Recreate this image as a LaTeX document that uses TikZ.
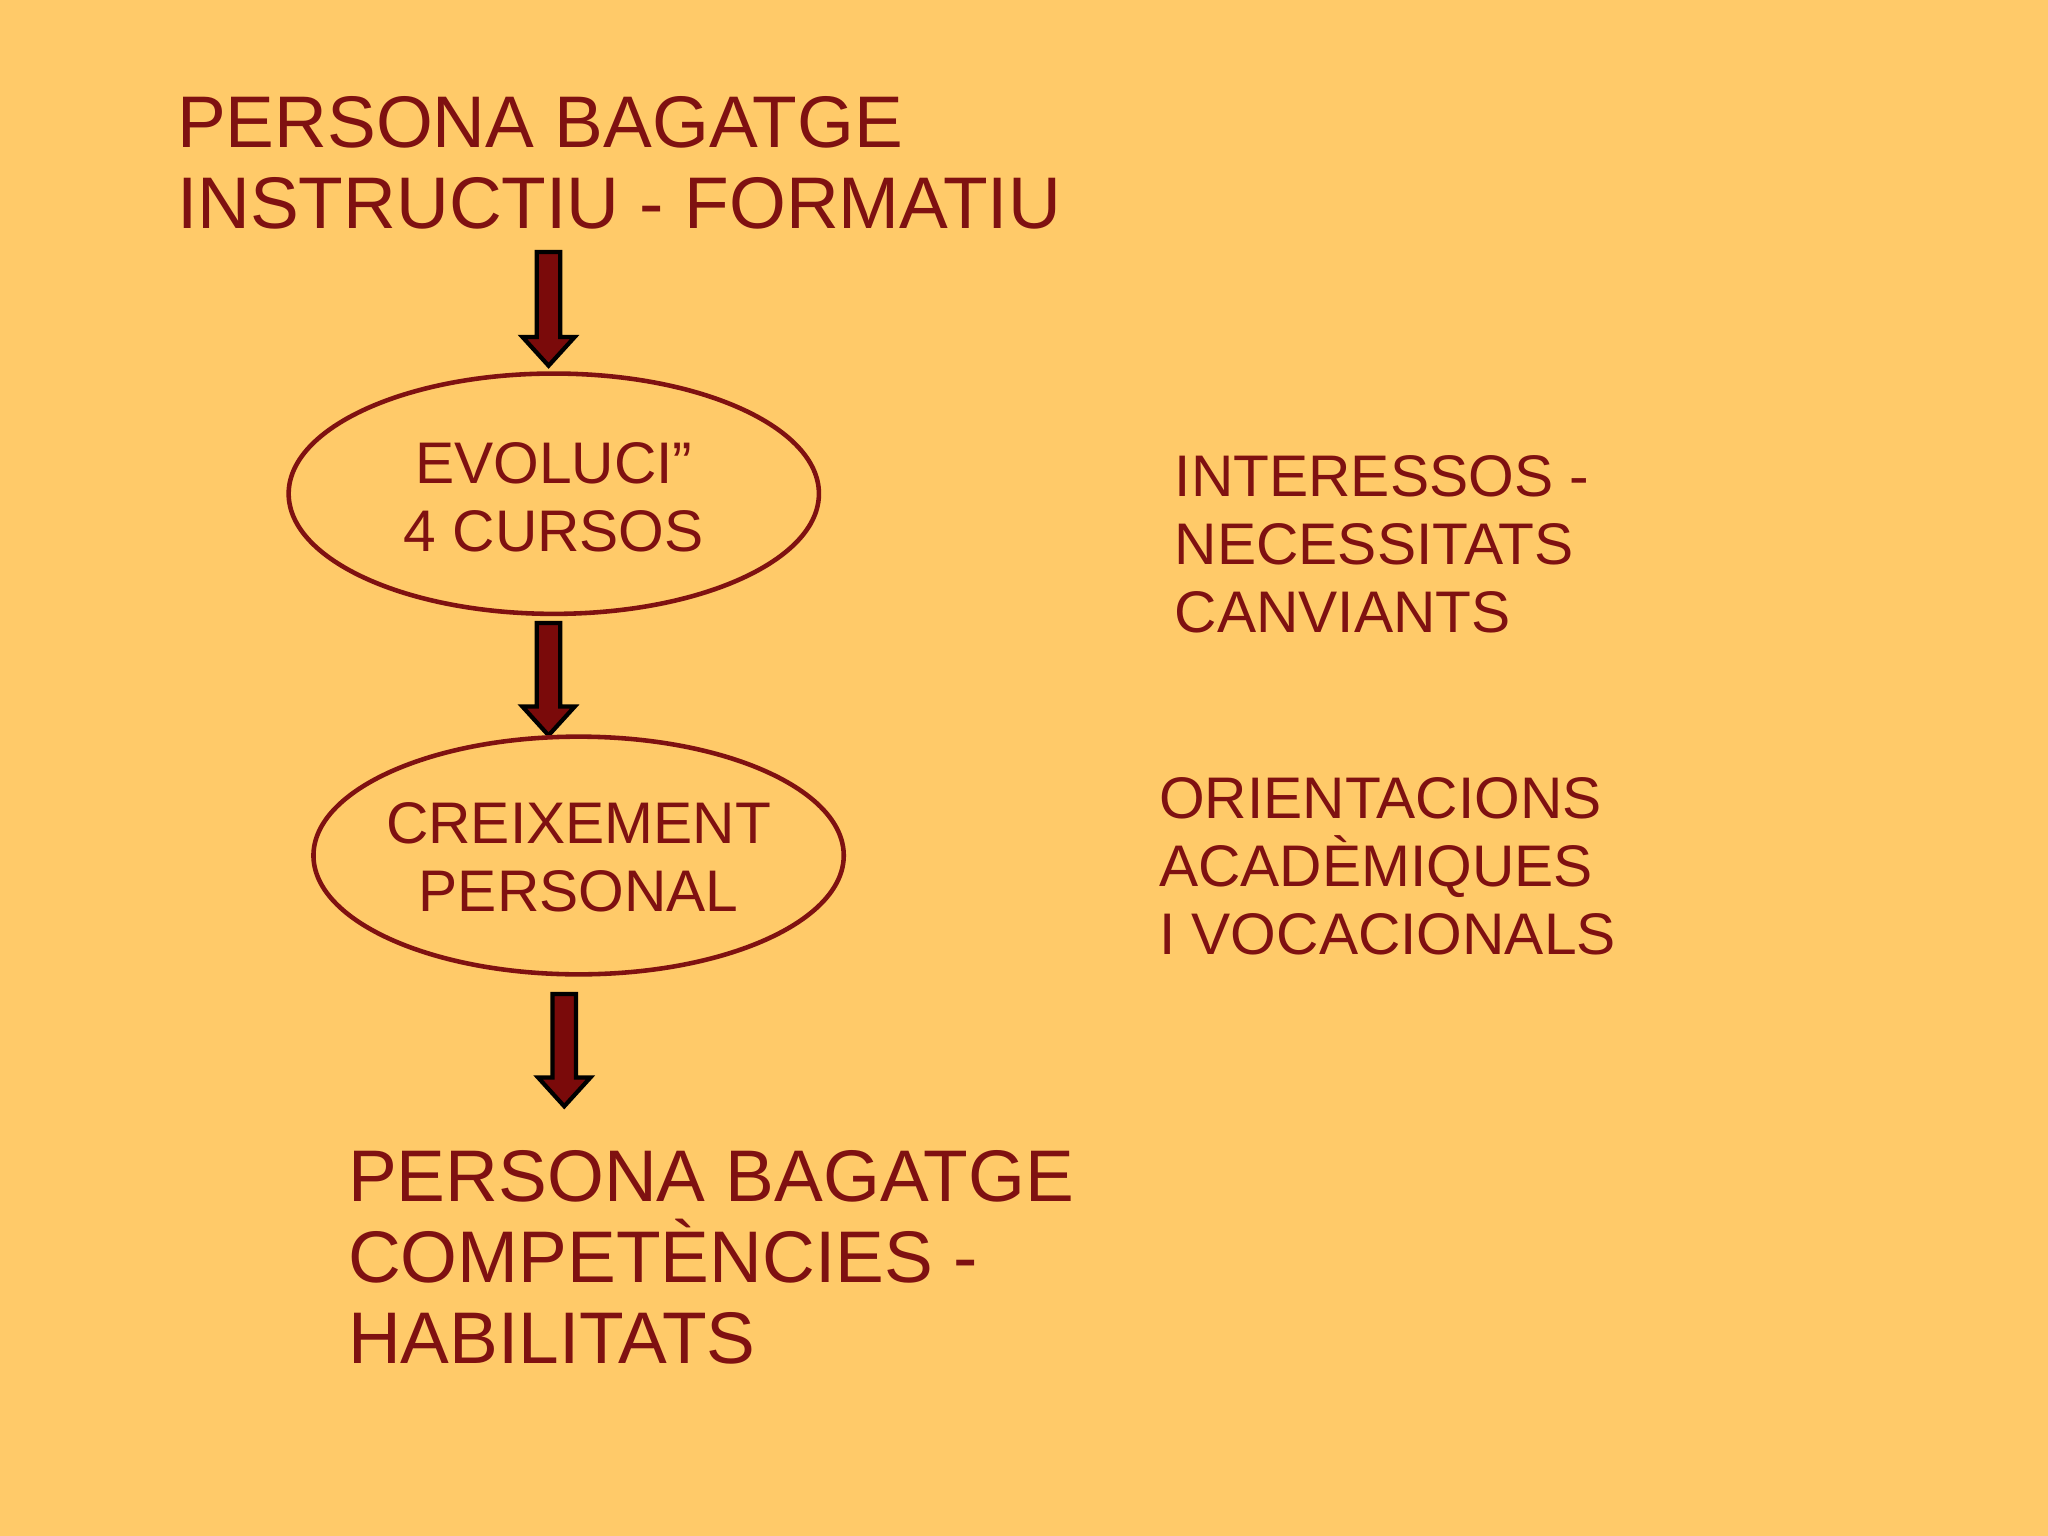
\documentclass[tikz,border=0pt]{standalone}
\usepackage{fontspec}
\setmainfont{Liberation Sans}
\definecolor{bg}{HTML}{FFCA69}
\definecolor{dred}{HTML}{7F1111}
\definecolor{afill}{HTML}{7A0A0A}
\newcommand{\blkarrow}[4]{% cx, ytop, yhead, ytip
  \fill[afill,draw=black,line width=1.2pt]
   (#1-9,#2) -- (#1+9,#2) -- (#1+9,#3) -- (#1+20,#3) -- (#1,#4) -- (#1-20,#3) -- (#1-9,#3) -- cycle;}
\begin{document}
\begin{tikzpicture}[x=0.01306cm,y=-0.01306cm,
  big/.style={font=\fontsize{20.8pt}{23pt}\selectfont,text=dred,anchor=base west,inner sep=0},
  mid/.style={font=\fontsize{16.7pt}{19.3pt}\selectfont,text=dred,anchor=base west,inner sep=0},
  midc/.style={font=\fontsize{16.7pt}{19.3pt}\selectfont,text=dred,anchor=base,inner sep=0},
  ell/.style={draw=dred,line width=1.3pt}]
\fill[bg] (0,0) rectangle (1568,1176);
\useasboundingbox (0,0) rectangle (1568,1176);
\node[big] (t1) at (135,113) {PERSONA BAGATGE};
\node[big] (t2) at (135,175) {INSTRUCTIU - FORMATIU};
\blkarrow{420}{193}{258}{280}
\draw[ell] (424,378) ellipse [x radius=203, y radius=92];
\node[midc] (e1) at (424,370) {EVOLUCI”};
\node[midc] (e2) at (424,422) {4 CURSOS};
\blkarrow{420}{477}{541}{563}
\draw[ell] (443,655) ellipse [x radius=203, y radius=91];
\node[midc] (c1) at (443,646) {CREIXEMENT};
\node[midc] (c2) at (443,698) {PERSONAL};
\blkarrow{432}{761}{825}{847}
\node[big] (b1) at (266,920) {PERSONA BAGATGE};
\node[big] (b2) at (266,982) {COMPETÈNCIES -};
\node[big] (b3) at (266,1044) {HABILITATS};
\node[mid] (r1) at (899,380) {INTERESSOS -};
\node[mid] (r2) at (899,432) {NECESSITATS};
\node[mid] (r3) at (899,484) {CANVIANTS};
\node[mid] (o1) at (887,627) {ORIENTACIONS};
\node[mid] (o2) at (887,679) {ACADÈMIQUES};
\node[mid] (o3) at (887,731) {I VOCACIONALS};
\end{tikzpicture}
\end{document}
